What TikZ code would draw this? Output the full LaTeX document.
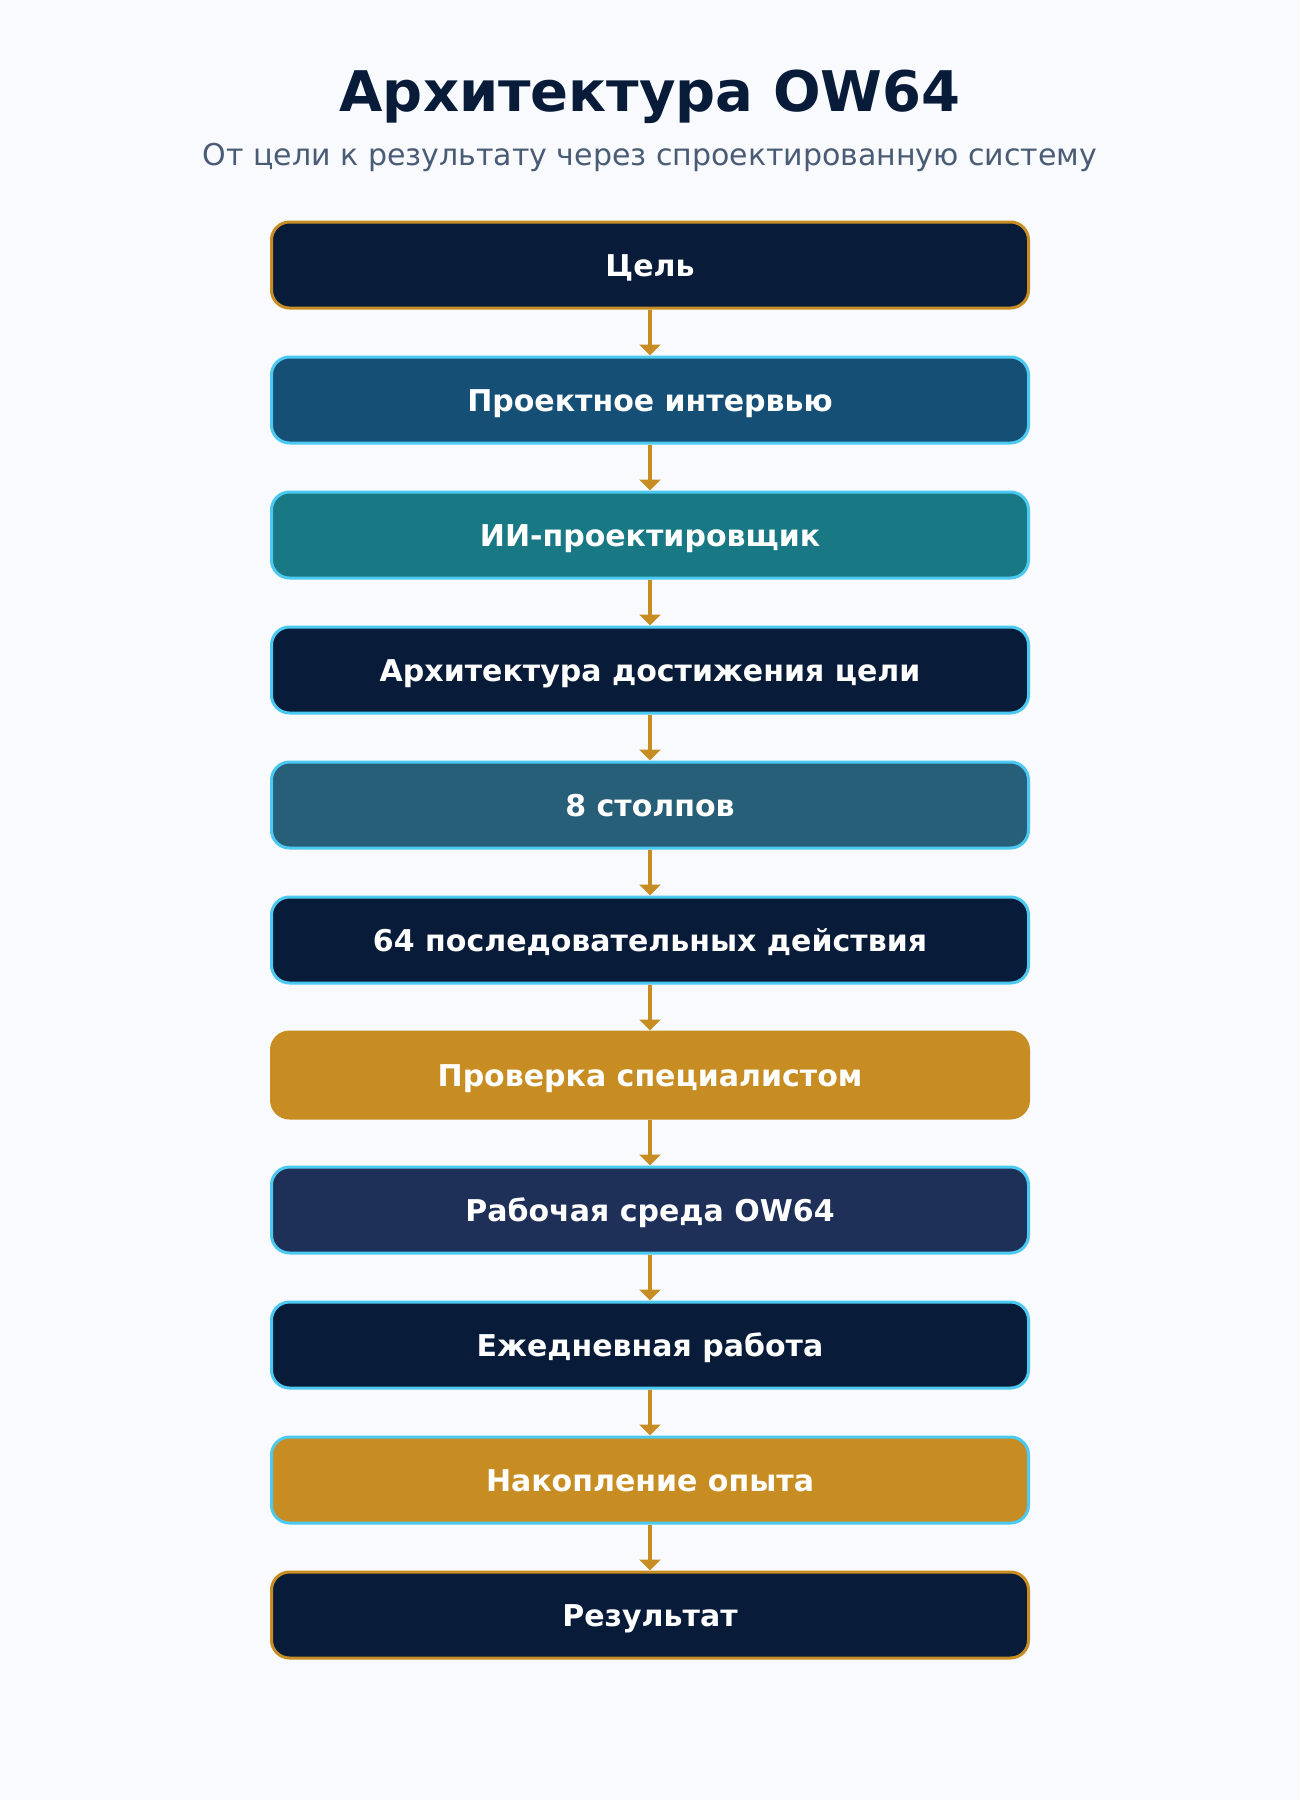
\documentclass[tikz,border=0pt]{standalone}
\usepackage{fontspec}
\setmainfont{DejaVu Sans}
\usetikzlibrary{arrows.meta}
\definecolor{bg}{HTML}{F8FAFD}
\definecolor{navy}{HTML}{081C3A}
\definecolor{gold}{HTML}{C78D23}
\definecolor{cyanb}{HTML}{4CC9F0}
\definecolor{blueb}{HTML}{154F76}
\definecolor{tealb}{HTML}{187884}
\definecolor{slateb}{HTML}{275E78}
\definecolor{indigob}{HTML}{1F3058}
\definecolor{subt}{HTML}{4A5B75}
\tikzset{
  stepbox/.style={rounded corners=18pt, line width=3pt, minimum width=757pt, minimum height=86pt,
    inner sep=0pt, text height=27pt, text depth=5pt, text=white, font=\fontsize{30}{34}\selectfont\bfseries},
  flow/.style={draw=gold, line width=4.5pt, -{Triangle[width=21pt,length=11pt]}}
}
\begin{document}
\begin{tikzpicture}[x=1pt,y=-1pt]
\fill[bg] (0,0) rectangle (1300,1800);
\useasboundingbox (0,0) rectangle (1300,1800);
\node (title) at (650,97) [text=navy, font=\fontsize{56}{62}\selectfont\bfseries] {Архитектура OW64};
\node (sub) at (650,157) [text=subt, font=\fontsize{30}{34}\selectfont] {От цели к результату через спроектированную систему};
\node[stepbox, fill=navy, draw=gold] (n1) at (650,265) {Цель};
\node[stepbox, fill=blueb, draw=cyanb] (n2) at (650,400) {Проектное интервью};
\node[stepbox, fill=tealb, draw=cyanb] (n3) at (650,535) {ИИ-проектировщик};
\node[stepbox, fill=navy, draw=cyanb] (n4) at (650,670) {Архитектура достижения цели};
\node[stepbox, fill=slateb, draw=cyanb] (n5) at (650,805) {8 столпов};
\node[stepbox, fill=navy, draw=cyanb] (n6) at (650,940) {64 последовательных действия};
\node[stepbox, fill=gold, draw=gold] (n7) at (650,1075) {Проверка специалистом};
\node[stepbox, fill=indigob, draw=cyanb] (n8) at (650,1210) {Рабочая среда OW64};
\node[stepbox, fill=navy, draw=cyanb] (n9) at (650,1345) {Ежедневная работа};
\node[stepbox, fill=gold, draw=cyanb] (n10) at (650,1480) {Накопление опыта};
\node[stepbox, fill=navy, draw=gold] (n11) at (650,1615) {Результат};
\foreach \a/\b in {n1/n2,n2/n3,n3/n4,n4/n5,n5/n6,n6/n7,n7/n8,n8/n9,n9/n10,n10/n11}
  \draw[flow] (\a.south) -- (\b.north);
\end{tikzpicture}
\end{document}
